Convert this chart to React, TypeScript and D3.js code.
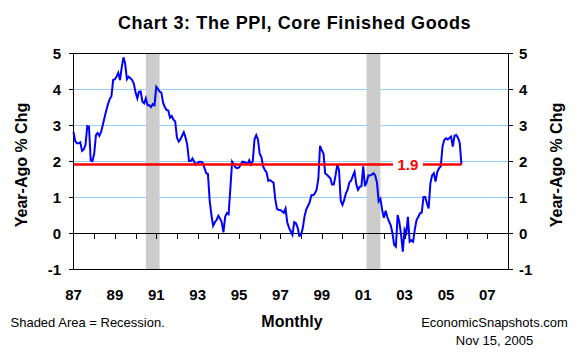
import { useRef, useEffect } from "react"
import * as d3 from "d3"

// PPI core finished goods, year-ago % change, monthly from Jan 1987
const startYear = 1987
const ppiCore = [
  // 1987
  2.81, 2.55, 2.49, 2.49, 2.52, 2.28, 2.32, 2.45, 2.97, 2.95, 2.02, 2.0,
  // 1988
  2.2, 2.72, 2.78, 2.7, 2.8, 3.0, 3.2, 3.4, 3.58, 3.72, 3.8, 4.25,
  // 1989
  4.27, 4.35, 4.45, 4.25, 4.6, 4.88, 4.7, 4.27, 4.34, 4.3, 4.25, 4.15,
  // 1990
  3.9, 3.74, 3.92, 3.93, 3.65, 3.6, 3.74, 3.55, 3.55, 3.5, 3.58, 3.55,
  // 1991
  4.06, 4.0, 3.93, 3.9, 3.62, 3.5, 3.42, 3.4, 3.2, 3.25, 3.15, 3.1,
  // 1992
  2.65, 2.54, 2.6, 2.7, 2.8, 2.65, 2.45, 2.0, 2.0, 2.07, 1.98, 1.9,
  // 1993
  1.95, 1.98, 1.98, 1.95, 1.8, 1.66, 1.64, 0.9, 0.5, 0.2, 0.3, 0.36,
  // 1994
  0.48, 0.4, 0.3, 0.02, 0.45, 0.55, 0.52, 1.24, 1.98, 1.9, 1.82, 1.8,
  // 1995
  1.82, 1.9, 1.98, 1.97, 1.95, 1.92, 2.02, 1.9, 2.0, 2.6, 2.72, 2.6,
  // 1996
  2.2, 2.1, 1.85, 1.75, 1.68, 1.45, 1.47, 1.43, 1.4, 0.95, 0.67, 0.64,
  // 1997
  0.64, 0.6, 0.56, 0.68, 0.3, 0.15, 0.05, -0.05, 0.3, 0.27, 0.15, -0.08,
  // 1998
  -0.05, 0.15, 0.45, 0.65, 0.75, 0.85, 1.05, 1.05, 1.1, 1.2, 1.5, 2.42,
  // 1999
  2.3, 2.2, 1.66, 1.62, 1.57, 1.52, 1.35, 1.35, 1.6, 1.9, 1.75, 0.9,
  // 2000
  0.78, 0.92, 1.1, 1.2, 1.4, 1.45, 1.58, 1.7, 1.35, 1.2, 1.28, 1.3,
  // 2001
  1.85, 1.3, 1.4, 1.6, 1.6, 1.62, 1.66, 1.6, 1.4, 0.88, 0.95, 0.65,
  // 2002
  0.42, 0.62, 0.45, 0.32, 0.22, 0.0, -0.33, -0.38, 0.5, 0.3, -0.05, -0.52,
  // 2003
  0.1, 0.0, 0.45, -0.24, -0.2, -0.24, 0.1, 0.36, 0.45, 0.55, 0.57, 1.0,
  // 2004
  1.0, 0.82, 0.68, 1.38, 1.6, 1.66, 1.43, 1.7, 1.8, 1.85, 2.4, 2.58,
  // 2005
  2.63, 2.6, 2.64, 2.68, 2.4, 2.7, 2.72, 2.65, 2.5, 1.9,
]

const yTicks = [-1, 0, 1, 2, 3, 4, 5]
const gridValues = [1, 2, 3, 4]
const yearLabels = ["87", "89", "91", "93", "95", "97", "99", "01", "03", "05", "07"]
const recessions = [
  ["1990-07-01", "1991-03-01"],
  ["2001-03-01", "2001-11-01"],
]

const FONT = "'Liberation Sans', Arial, Helvetica, sans-serif"

export default function App() {
  const svgRef = useRef<SVGSVGElement | null>(null)

  useEffect(() => {
    if (!svgRef.current) return
    const svg = d3.select(svgRef.current)
    svg.selectAll("*").remove()

    const width = 580
    const height = 353
    const left = 73.5
    const right = 508
    const top = 53
    const bottom = 269

    const data = ppiCore.map((v, i) => ({ date: new Date(startYear, i, 1), value: v }))
    const lastDate = data[data.length - 1].date
    const lastValue = data[data.length - 1].value

    const x = d3
      .scaleTime()
      .domain([new Date(startYear, 0, 1), new Date(2008, 0, 1)])
      .range([left, right])

    const y = d3.scaleLinear().domain([-1, 5]).range([bottom, top])

    svg.append("rect").attr("width", width).attr("height", height).attr("fill", "white")

    // Title
    svg
      .append("text")
      .attr("x", 294.5)
      .attr("y", 29)
      .attr("text-anchor", "middle")
      .attr("font-family", FONT)
      .attr("font-weight", "bold")
      .attr("font-size", "18px")
      .attr("letter-spacing", "0.6px")
      .text("Chart 3: The PPI, Core Finished Goods")

    // Gridlines
    svg
      .append("g")
      .selectAll("line")
      .data(gridValues)
      .enter()
      .append("line")
      .attr("x1", left)
      .attr("x2", right)
      .attr("y1", (d) => Math.round(y(d)) + 0.5)
      .attr("y2", (d) => Math.round(y(d)) + 0.5)
      .attr("stroke", "#99CCFF")
      .attr("stroke-width", 1)

    // Recession bands
    svg
      .append("g")
      .selectAll("rect")
      .data(recessions)
      .enter()
      .append("rect")
      .attr("x", (d) => x(new Date(d[0])))
      .attr("width", (d) => x(new Date(d[1])) - x(new Date(d[0])))
      .attr("y", top)
      .attr("height", bottom - top)
      .attr("fill", "#CCCCCC")

    // Plot frame
    const frame = svg.append("g").attr("stroke", "black").attr("stroke-width", 1).attr("shape-rendering", "crispEdges")
    frame.append("line").attr("x1", left).attr("x2", right).attr("y1", top + 0.5).attr("y2", top + 0.5)
    frame.append("line").attr("x1", left).attr("x2", right).attr("y1", bottom + 0.5).attr("y2", bottom + 0.5)
    frame.append("line").attr("x1", left).attr("x2", left).attr("y1", top).attr("y2", bottom + 1)
    frame.append("line").attr("x1", right).attr("x2", right).attr("y1", top).attr("y2", bottom + 1)

    // Zero line with yearly ticks
    const y0 = Math.round(y(0)) + 0.5
    frame.append("line").attr("x1", left).attr("x2", right).attr("y1", y0).attr("y2", y0)
    const years = d3.timeYear.range(new Date(1988, 0, 1), new Date(2008, 0, 1))
    frame
      .selectAll(".xtick")
      .data(years)
      .enter()
      .append("line")
      .attr("class", "xtick")
      .attr("x1", (d) => Math.round(x(d)) + 0.5)
      .attr("x2", (d) => Math.round(x(d)) + 0.5)
      .attr("y1", y0)
      .attr("y2", y0 + 5)

    // Y ticks both sides
    frame
      .selectAll(".ytl")
      .data(yTicks)
      .enter()
      .append("line")
      .attr("x1", left - 5)
      .attr("x2", left)
      .attr("y1", (d) => Math.round(y(d)) + 0.5)
      .attr("y2", (d) => Math.round(y(d)) + 0.5)
    frame
      .selectAll(".ytr")
      .data(yTicks)
      .enter()
      .append("line")
      .attr("x1", right)
      .attr("x2", right + 5)
      .attr("y1", (d) => Math.round(y(d)) + 0.5)
      .attr("y2", (d) => Math.round(y(d)) + 0.5)

    // Y labels
    const ylab = svg.append("g").attr("font-family", FONT).attr("font-weight", "bold").attr("font-size", "15px")
    ylab
      .selectAll(".yl")
      .data(yTicks)
      .enter()
      .append("text")
      .attr("x", 61)
      .attr("y", (d) => y(d) + 5.5)
      .attr("text-anchor", "end")
      .text((d) => d)
    ylab
      .selectAll(".yr")
      .data(yTicks)
      .enter()
      .append("text")
      .attr("x", 519)
      .attr("y", (d) => y(d) + 5.5)
      .attr("text-anchor", "start")
      .text((d) => d)

    // X labels every other year
    ylab
      .selectAll(".xl")
      .data(yearLabels)
      .enter()
      .append("text")
      .attr("x", (_, i) => x(new Date(startYear + i * 2, 0, 1)))
      .attr("y", 300)
      .attr("text-anchor", "middle")
      .text((d) => d)

    // Axis titles
    const axTitle = svg.append("g").attr("font-family", FONT).attr("font-weight", "bold").attr("font-size", "16px")
    axTitle
      .append("text")
      .attr("transform", "translate(27,165) rotate(-90)")
      .attr("text-anchor", "middle")
      .text("Year-Ago % Chg")
    axTitle
      .append("text")
      .attr("transform", "translate(562,165) rotate(-90)")
      .attr("text-anchor", "middle")
      .text("Year-Ago % Chg")
    axTitle.append("text").attr("x", 292).attr("y", 327).attr("text-anchor", "middle").text("Monthly")

    // Footer notes
    const foot = svg.append("g").attr("font-family", FONT).attr("font-size", "13px")
    foot.append("text").attr("x", 10.5).attr("y", 327).text("Shaded Area = Recession.")
    foot.append("text").attr("x", 494.5).attr("y", 327).attr("text-anchor", "middle").text("EconomicSnapshots.com")
    foot.append("text").attr("x", 494.5).attr("y", 345).attr("text-anchor", "middle").text("Nov 15, 2005")

    // Data line
    const line = d3
      .line<{ date: Date; value: number }>()
      .x((d) => x(d.date))
      .y((d) => y(d.value))

    svg
      .append("path")
      .datum(data)
      .attr("fill", "none")
      .attr("stroke", "#0000FF")
      .attr("stroke-width", 2)
      .attr("d", line)

    // Latest value reference line
    svg
      .append("line")
      .attr("x1", left)
      .attr("x2", x(lastDate))
      .attr("y1", y(lastValue))
      .attr("y2", y(lastValue))
      .attr("stroke", "#FF0000")
      .attr("stroke-width", 2.5)

    const labelX = x(new Date(2003, 2, 1))
    svg
      .append("rect")
      .attr("x", labelX - 15)
      .attr("y", y(lastValue) - 4)
      .attr("width", 30)
      .attr("height", 8)
      .attr("fill", "white")
    svg
      .append("text")
      .attr("x", labelX)
      .attr("y", y(lastValue) + 5.5)
      .attr("text-anchor", "middle")
      .attr("font-family", FONT)
      .attr("font-weight", "bold")
      .attr("font-size", "15px")
      .attr("fill", "#FF0000")
      .text(lastValue.toFixed(1))
  }, [])

  return (
    <div style={{ position: "absolute", left: 0, top: 0 }}>
      <svg ref={svgRef} width={580} height={353} style={{ display: "block" }}></svg>
    </div>
  )
}
